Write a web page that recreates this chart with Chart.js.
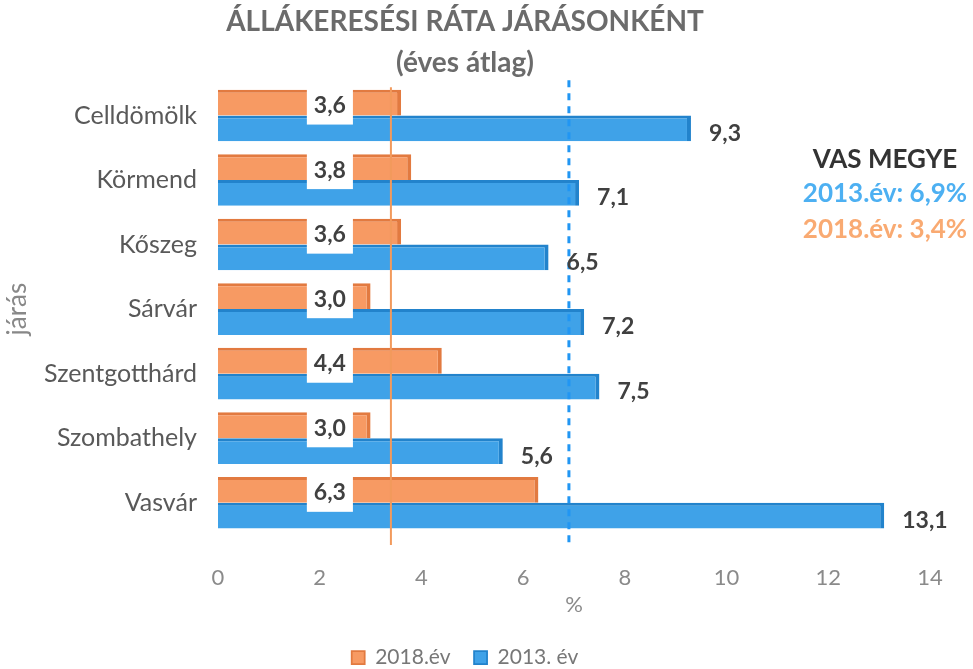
<!DOCTYPE html>
<html>
<head>
<meta charset="utf-8">
<script src="https://cdn.jsdelivr.net/npm/chart.js@4.4.1/dist/chart.umd.min.js"></script>
<style>
  html, body { margin: 0; padding: 0; background: #fff; }
  #wrap { width: 973px; height: 669px; }
</style>
</head>
<body>
<div id="wrap"><canvas id="chart" width="973" height="669"></canvas></div>
<script>
// data
const districts = ["Celldömölk", "Körmend", "Kőszeg", "Sárvár", "Szentgotthárd", "Szombathely", "Vasvár"];
const rate2018 = [3.6, 3.8, 3.6, 3.0, 4.4, 3.0, 6.3];
const rate2013 = [9.3, 7.1, 6.5, 7.2, 7.5, 5.6, 13.1];
const xTicks = [0, 2, 4, 6, 8, 10, 12, 14];
// county averages (drawn as vertical lines) and the text on the right
const county2018 = 3.4;
const county2013 = 6.9;
const countyText = ["VAS MEGYE", "2013.év: 6,9%", "2018.év: 3,4%"];
const label2018At = 2.2; // where the white value boxes sit on the x scale

const FONT = "Lato, 'Open Sans', sans-serif";
const ORANGE = "#F79A63";
const BLUE = "#3FA2E8";

const fmt = v => v.toFixed(1).replace(".", ",");

const overlay = {
  id: "overlay",
  afterDatasetsDraw(chart) {
    const { ctx, chartArea } = chart;
    const xs = chart.scales.x;

    ctx.save();
    // county lines
    let px = xs.getPixelForValue(county2018);
    ctx.strokeStyle = "#F29A5C";
    ctx.lineWidth = 2;
    ctx.beginPath();
    ctx.moveTo(px, chartArea.top + 4);
    ctx.lineTo(px, chartArea.bottom + 10);
    ctx.stroke();

    px = xs.getPixelForValue(county2013);
    ctx.strokeStyle = "#2196F3";
    ctx.lineWidth = 3;
    ctx.setLineDash([7, 6]);
    ctx.beginPath();
    ctx.moveTo(px, chartArea.top - 3);
    ctx.lineTo(px, chartArea.bottom + 13);
    ctx.stroke();
    ctx.setLineDash([]);

    // value labels
    ctx.font = "bold 23px " + FONT;
    ctx.textBaseline = "middle";
    const m0 = chart.getDatasetMeta(0);
    m0.data.forEach((bar, i) => {
      const txt = fmt(rate2018[i]);
      const cx = xs.getPixelForValue(label2018At);
      const w = ctx.measureText(txt).width + 14;
      ctx.fillStyle = "#fff";
      ctx.fillRect(cx - w / 2, bar.y - 16, w, 38);
      ctx.fillStyle = "#404040";
      ctx.textAlign = "center";
      ctx.fillText(txt, cx, bar.y + 3);
    });
    const m1 = chart.getDatasetMeta(1);
    m1.data.forEach((bar, i) => {
      ctx.fillStyle = "#404040";
      ctx.textAlign = "left";
      ctx.fillText(fmt(rate2013[i]), bar.x + 18, bar.y + 5);
    });

    // county text
    ctx.textAlign = "center";
    ctx.font = "bold 26px " + FONT;
    ctx.fillStyle = "#333";
    ctx.fillText(countyText[0], 885, 160);
    ctx.fillStyle = "#4DB0F2";
    ctx.fillText(countyText[1], 885, 194);
    ctx.fillStyle = "#F9AA72";
    ctx.fillText(countyText[2], 885, 230);
    ctx.restore();
  }
};

new Chart(document.getElementById("chart"), {
  type: "bar",
  data: {
    labels: districts,
    datasets: [
      {
        label: "2018.év",
        data: rate2018,
        backgroundColor: ORANGE,
        borderColor: "#E27A40",
        borderWidth: { top: 3, right: 4, bottom: 0, left: 0 },
        borderSkipped: false
      },
      {
        label: "2013. év",
        data: rate2013,
        backgroundColor: BLUE,
        borderColor: "#2283CC",
        borderWidth: { top: 3, right: 4, bottom: 0, left: 0 },
        borderSkipped: false
      }
    ]
  },
  options: {
    indexAxis: "y",
    responsive: false,
    animation: false,
    layout: { padding: { top: 0, right: 43, bottom: -9, left: 0 } },
    datasets: { bar: { categoryPercentage: 0.8, barPercentage: 1.0 } },
    scales: {
      x: {
        min: 0,
        max: 14,
        afterBuildTicks: s => { s.ticks = xTicks.map(v => ({ value: v })); },
        afterFit: s => { s.height = 110; },
        grid: { display: false },
        border: { display: false },
        ticks: { color: "#8a8a8a", font: { family: FONT, size: 22 }, padding: 22 },
        title: { display: true, text: "%", color: "#8a8a8a", font: { family: FONT, size: 22 }, padding: { top: 0, bottom: 27 } }
      },
      y: {
        afterFit: s => { s.width = 218; },
        grid: { display: false },
        border: { display: false },
        ticks: { color: "#595959", font: { family: FONT, size: 25 }, padding: 13 },
        title: { display: true, text: "járás", color: "#888", font: { family: FONT, size: 26 }, padding: { top: 2, bottom: 0 } }
      }
    },
    plugins: {
      title: {
        display: true,
        text: ["ÁLLÁKERESÉSI RÁTA JÁRÁSONKÉNT", "(éves átlag)"],
        color: "#6b6b6b",
        font: { family: FONT, size: 28, weight: "bold", lineHeight: 1.45 },
        padding: { top: 2, bottom: 0 }
      },
      legend: {
        position: "bottom",
        labels: {
          color: "#777",
          font: { family: FONT, size: 21 },
          boxWidth: 13,
          boxHeight: 13,
          padding: 2,
          generateLabels: chart => {
            const items = Chart.defaults.plugins.legend.labels.generateLabels(chart);
            items[0].text += "    ";
            return items;
          }
        }
      },
      tooltip: { enabled: false }
    }
  },
  plugins: [overlay]
});
</script>
</body>
</html>
